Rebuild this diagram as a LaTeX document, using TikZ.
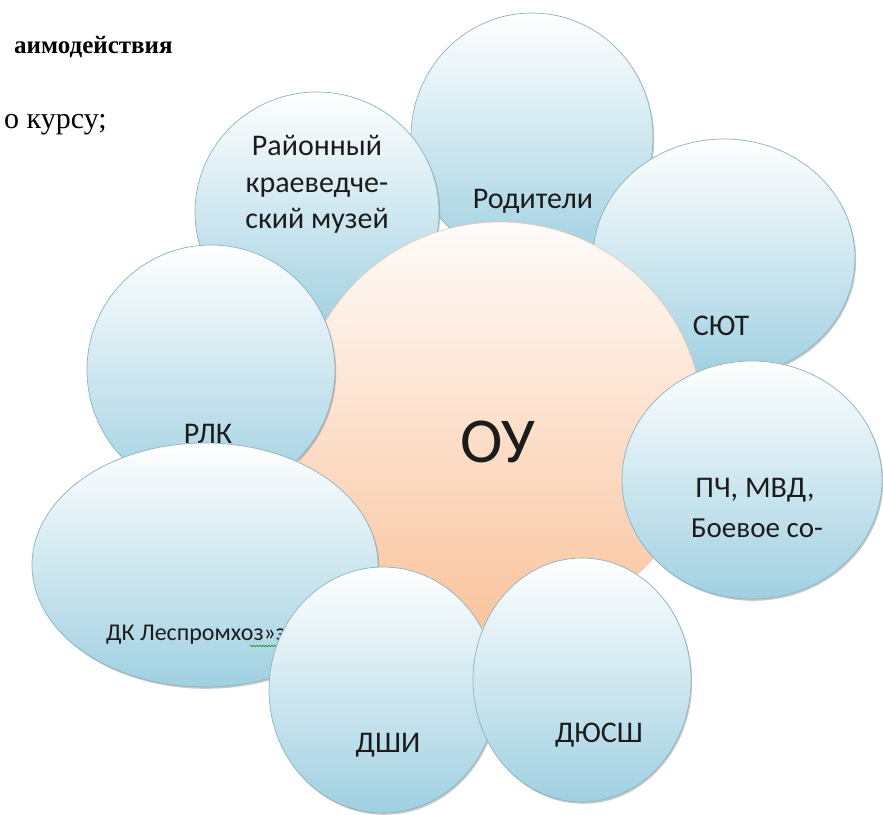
\documentclass[tikz,border=0pt]{standalone}
\usepackage{fontspec}
\setmainfont{Carlito}
\newfontfamily\serifdoc{Liberation Serif}
\usetikzlibrary{shapes.geometric,shadows,decorations.pathmorphing}
\definecolor{satblue}{RGB}{160,208,225}
\definecolor{satline}{RGB}{140,178,192}
\definecolor{peach}{RGB}{250,196,158}
\definecolor{peachline}{RGB}{238,196,170}
\definecolor{txt}{RGB}{28,28,28}
\begin{document}
\begin{tikzpicture}[x=1pt,y=-1pt,
  sat/.style={ellipse, inner sep=0pt, draw=satline, line width=0.7pt,
    top color=white, bottom color=satblue,
    drop shadow={shadow xshift=1.2pt, shadow yshift=-1.8pt, opacity=0.35, fill=black!60}},
  hub/.style={ellipse, inner sep=0pt, draw=peachline, line width=0.6pt,
    top color=peach!6, bottom color=peach},
  lbl/.style={font=\fontsize{30}{36}\selectfont, text=txt, anchor=base, inner sep=0pt},
  doc/.style={font=\serifdoc\fontsize{30}{36}\selectfont, text=black, anchor=base west, inner sep=0pt},
]
\fill[white] (0,0) rectangle (883,814);
\useasboundingbox (0,0) rectangle (883,814);

% document text behind
\node[doc, font=\serifdoc\bfseries\fontsize{25}{30}\selectfont] (head) at (14,53) {аимодействия};
\node[doc] (kurs) at (4,128) {о курсу;};

% layer beneath the hub
\node[sat, minimum width=242pt, minimum height=248pt] (rod) at (532,137) {};
\node[lbl] (trod) at (533,208) {Родители};
\node[sat, minimum width=244pt, minimum height=240pt] (muz) at (317,212) {};
\node[lbl] (tmuz1) at (317,155) {Районный};
\node[lbl] (tmuz2) at (317,192) {краеведче-};
\node[lbl] (tmuz3) at (317,228) {ский музей};
\node[sat, minimum width=262pt, minimum height=238pt] (syut) at (724,258) {};
\node[lbl] (tsyut) at (721,335) {СЮТ};

% hub
\node[hub, minimum width=406pt, minimum height=406pt] (hub) at (500,425) {};
\node[lbl, font=\fontsize{64}{70}\selectfont] (thub) at (498,462) {ОУ};

% layer above the hub
\node[sat, minimum width=248pt, minimum height=250pt] (rlk) at (211,370) {};
\node[lbl] (trlk) at (208,443) {РЛК};
\node[sat, minimum width=346pt, minimum height=244pt] (dk) at (205,565) {};
\node[lbl, anchor=base west, font=\fontsize{24}{28}\selectfont] (tdk) at (106,640) {ДК Леспромхоз»з};
\coordinate (wv1) at (250,646);
\coordinate (wv2) at (282,646);
\draw[green!55!black, line width=0.5pt, decorate,
  decoration={snake, amplitude=0.8pt, segment length=3pt}] (wv1) -- (wv2);
\node[sat, minimum width=228pt, minimum height=246pt] (dshi) at (383,690) {};
\node[lbl] (tdshi) at (388,752) {ДШИ};
\node[sat, minimum width=260pt, minimum height=238pt] (pch) at (752,480) {};
\node[lbl] (tpch1) at (755,497) {ПЧ, МВД,};
\node[lbl, font=\fontsize{29}{34}\selectfont] (tpch2) at (757,537) {Боевое со-};
\node[sat, minimum width=218pt, minimum height=244pt] (dyu) at (582,680) {};
\node[lbl] (tdyu) at (599,742) {ДЮСШ};
\end{tikzpicture}
\end{document}
